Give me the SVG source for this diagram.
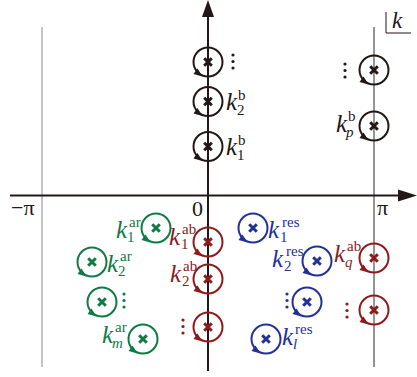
<svg xmlns="http://www.w3.org/2000/svg" xmlns:xlink="http://www.w3.org/1999/xlink" width="417" height="377" viewBox="0 0 417 377">
<style>
.k{font-family:"Liberation Serif",serif;font-style:italic;font-size:25px}
.s{font-family:"Liberation Serif",serif;font-size:15px}
.si{font-family:"Liberation Serif",serif;font-style:italic;font-size:15px}
.ax{font-family:"Liberation Serif",serif;font-size:22px;fill:#231815}
.blk{color:#231815;fill:#231815}
.grn{color:#0f7a45;fill:#0f7a45}
.red{color:#8e1a1c;fill:#8e1a1c}
.blu{color:#24309a;fill:#24309a}
</style>
<defs>
<g id="pole">
<circle r="14.5" fill="none" stroke="currentColor" stroke-width="2"/>
<path d="M-3.8,-3.8L3.8,3.8M3.8,-3.8L-3.8,3.8" stroke="currentColor" stroke-width="3"/>
<path d="M-5.5,14.5L-14.5,12L-10.5,6.5Z" fill="currentColor"/>
</g>
<g id="dots">
<circle cx="0" cy="0" r="1.6"/><circle cx="0" cy="6.5" r="1.6"/><circle cx="0" cy="13" r="1.6"/>
</g>
</defs>
<rect width="417" height="377" fill="#fff"/>
<g id="axes">
<line x1="42" y1="27" x2="42" y2="367" stroke="#c4c4c4" stroke-width="2"/>
<line x1="374" y1="27" x2="374" y2="367" stroke="#959595" stroke-width="2"/>
<line x1="10" y1="195.5" x2="400" y2="195.5" stroke="#231815" stroke-width="2"/>
<path d="M417,195.5L398,189.5L398,201.5Z" fill="#231815"/>
<line x1="208" y1="371" x2="208" y2="15" stroke="#231815" stroke-width="2"/>
<path d="M208,0L202,17L214,17Z" fill="#231815"/>
<text class="ax" x="11" y="215">−π</text>
<text class="ax" x="192" y="216">0</text>
<text class="ax" x="377" y="215">π</text>
<path d="M386,12V33H411" fill="none" stroke="#231815" stroke-width="1"/>
<text class="k blk" x="392" y="28" style="font-size:23px">k</text>
</g>
<g id="b-dots-top" class="blk"><use xlink:href="#pole" x="208" y="62"/><use xlink:href="#dots" x="233" y="55"/></g>
<g id="k2b" class="blk"><use xlink:href="#pole" x="208" y="101.5"/><text class="k" x="226" y="110">k</text><text class="s" x="238" y="100">b</text><text class="s" x="237" y="115">2</text></g>
<g id="k1b" class="blk"><use xlink:href="#pole" x="208" y="146.5"/><text class="k" x="226" y="155">k</text><text class="s" x="238" y="145">b</text><text class="s" x="237" y="160">1</text></g>
<g id="b-dots-right" class="blk"><use xlink:href="#pole" x="374" y="70"/><use xlink:href="#dots" x="345" y="64"/></g>
<g id="kpb" class="blk"><use xlink:href="#pole" x="374" y="126"/><text class="k" x="336" y="132">k</text><text class="s" x="348" y="121">b</text><text class="si" x="346" y="137">p</text></g>
<g id="k1ar" class="grn"><use xlink:href="#pole" x="156" y="228"/><text class="k" x="116" y="238">k</text><text class="s" x="129" y="227">ar</text><text class="s" x="127" y="242">1</text></g>
<g id="k2ar" class="grn"><use xlink:href="#pole" x="92" y="262"/><text class="k" x="107" y="272">k</text><text class="s" x="120" y="261">ar</text><text class="s" x="118" y="276">2</text></g>
<g id="ar-dots" class="grn"><use xlink:href="#pole" x="102" y="302"/><use xlink:href="#dots" x="124" y="294"/></g>
<g id="kmar" class="grn"><use xlink:href="#pole" x="143" y="339"/><text class="k" x="102" y="343">k</text><text class="s" x="115" y="332">ar</text><text class="si" x="112" y="348">m</text></g>
<g id="k1ab" class="red"><use xlink:href="#pole" x="208" y="242"/><text class="k" x="169" y="245">k</text><text class="s" x="182" y="234">ab</text><text class="s" x="181" y="249">1</text></g>
<g id="k2ab" class="red"><use xlink:href="#pole" x="208" y="279"/><text class="k" x="170" y="282">k</text><text class="s" x="183" y="271">ab</text><text class="s" x="182" y="286">2</text></g>
<g id="ab-dots-left" class="red"><use xlink:href="#pole" x="208" y="327"/><use xlink:href="#dots" x="183" y="320"/></g>
<g id="kqab" class="red"><use xlink:href="#pole" x="374" y="258"/><text class="k" x="334" y="262">k</text><text class="s" x="347" y="251">ab</text><text class="si" x="345" y="267">q</text></g>
<g id="ab-dots-right" class="red"><use xlink:href="#pole" x="374" y="310"/><use xlink:href="#dots" x="347" y="304"/></g>
<g id="k1res" class="blu"><use xlink:href="#pole" x="253" y="228"/><text class="k" x="268" y="238">k</text><text class="s" x="282" y="227">res</text><text class="s" x="280" y="242">1</text></g>
<g id="k2res" class="blu"><use xlink:href="#pole" x="317" y="261"/><text class="k" x="272" y="267">k</text><text class="s" x="286" y="256">res</text><text class="s" x="284" y="271">2</text></g>
<g id="res-dots" class="blu"><use xlink:href="#pole" x="307" y="302"/><use xlink:href="#dots" x="287" y="294"/></g>
<g id="klres" class="blu"><use xlink:href="#pole" x="266" y="339"/><text class="k" x="282" y="345">k</text><text class="s" x="295" y="334">res</text><text class="si" x="293" y="349">l</text></g>
</svg>
